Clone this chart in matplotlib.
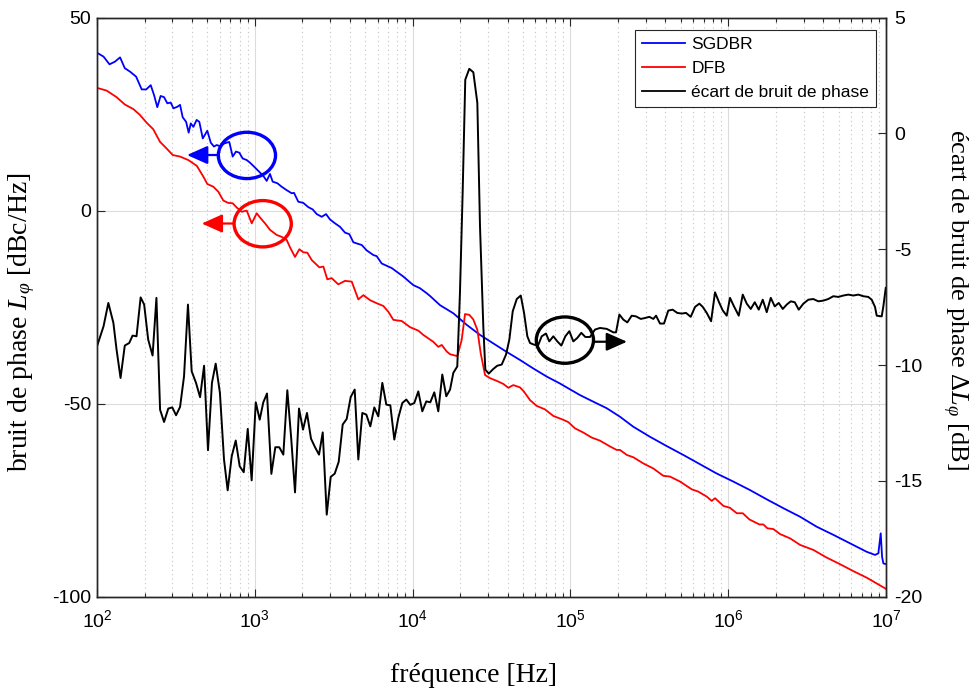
import numpy as np
import matplotlib
matplotlib.use('Agg')
import matplotlib.pyplot as plt
from matplotlib.patches import Ellipse
from matplotlib.lines import Line2D

plt.rcParams['font.family'] = ['Liberation Sans', 'DejaVu Sans']
plt.rcParams['mathtext.fontset'] = 'custom'
plt.rcParams['mathtext.rm'] = 'Liberation Serif'
plt.rcParams['mathtext.it'] = 'Liberation Serif:italic'
plt.rcParams['axes.unicode_minus'] = False

# SGDBR phase noise (dBc/Hz)
f_sgdbr = [100, 110, 120, 130, 140, 150, 162, 177, 192, 205, 219, 230, 241, 253, 266,
           279, 293, 305, 323, 336, 349, 367, 381, 393, 408, 428, 445, 468, 500, 526,
           551, 574, 608, 640, 689, 724, 760, 798, 838, 889, 933, 989, 1052, 1132, 1189,
           1248, 1298, 1389, 1479, 1592, 1712, 1772, 1886, 2029, 2183, 2328, 2468, 2655,
           2827, 2997, 3223, 3467, 3730, 3973, 4210, 4424, 4757, 5117, 5635, 5920, 6370,
           7385, 8739, 10100, 11130, 12280, 12880, 14920, 18120, 22030, 26730, 32450,
           39430, 47940, 58210, 70790, 85930, 99360, 115100, 139600, 169900, 206100,
           250500, 319400, 407500, 519200, 662100, 844600, 1077000, 1374000, 1754000,
           2236000, 2851000, 3637000, 4638000, 5916000, 7547000, 8516000, 8937000,
           9254000, 9437000, 9622000, 10000000]
L_sgdbr = [40.9, 39.9, 37.9, 38.6, 39.7, 36.9, 36.0, 34.7, 31.4, 31.4, 32.5, 29.9, 26.8,
           29.7, 29.4, 27.8, 28.0, 26.5, 26.9, 27.4, 24.2, 23.0, 20.2, 22.6, 21.7, 23.5,
           23.0, 18.7, 20.7, 17.6, 16.6, 17.0, 16.6, 17.4, 17.8, 14.0, 15.3, 15.0, 13.5,
           13.1, 12.4, 11.4, 10.3, 9.0, 7.7, 9.5, 7.5, 7.1, 6.2, 5.3, 4.5, 4.6, 2.3, 2.0,
           0.9, 0.3, -0.9, -1.6, -0.9, -2.3, -3.3, -4.2, -5.7, -6.1, -8.2, -8.5, -8.9,
           -10.3, -11.5, -11.8, -13.7, -14.9, -17.1, -19.3, -20.1, -21.4, -22.1, -24.5,
           -26.6, -29.6, -32.2, -34.4, -36.6, -38.7, -40.9, -43.0, -44.8, -46.3, -47.8,
           -49.5, -51.2, -53.4, -56.0, -58.6, -61.0, -63.3, -65.7, -68.1, -70.2, -72.4,
           -74.8, -77.1, -79.3, -81.9, -84.0, -86.2, -88.4, -89.2, -88.8, -83.6, -89.7,
           -91.4, -91.6]

# DFB phase noise (dBc/Hz)
f_dfb = [100, 115, 133, 150, 170, 187, 206, 227, 251, 276, 302, 336, 379, 429, 472, 500,
         546, 587, 632, 679, 724, 768, 826, 889, 956, 1028, 1090, 1161, 1249, 1376, 1480,
         1592, 1671, 1798, 1915, 2029, 2151, 2294, 2565, 2719, 2880, 3071, 3379, 3730,
         4113, 4529, 4873, 5375, 5925, 6521, 7015, 7551, 8536, 9637, 10870, 11690, 13530,
         14550, 15290, 16440, 17260, 19190, 20460, 21480, 22870, 24240, 25720, 27020,
         28770, 30930, 34090, 37560, 40400, 43450, 47940, 50800, 55460, 61200, 69030,
         77950, 90160, 96970, 106900, 120700, 136500, 154000, 178200, 196300, 206200,
         227500, 250500, 289700, 335100, 387800, 427600, 495000, 587000, 646500, 730900,
         786200, 824800, 931100, 1026600, 1132000, 1236000, 1361000, 1574000, 1669000,
         1770000, 1932000, 2130000, 2464000, 2851000, 3462000, 4210000, 5111000, 6206000,
         7547000, 10000000]
L_dfb = [31.8, 31.1, 29.4, 27.5, 26.3, 24.8, 22.8, 21.1, 17.8, 16.1, 14.4, 14.0, 13.1,
         11.6, 8.8, 6.9, 6.2, 4.9, 2.6, 2.0, 1.9, 0.8, -0.3, 0.0, -3.3, -0.7, -2.0, -3.3,
         -5.0, -6.3, -6.8, -7.6, -9.5, -12.0, -10.0, -10.8, -10.9, -12.8, -14.7, -14.5,
         -17.8, -17.5, -19.1, -18.2, -18.4, -23.0, -21.9, -23.2, -24.0, -24.7, -26.2,
         -28.3, -28.6, -30.2, -31.1, -32.2, -34.0, -35.3, -34.8, -36.5, -37.2, -37.7,
         -33.5, -26.8, -27.0, -28.2, -30.9, -37.0, -42.6, -43.4, -44.1, -44.9, -45.9,
         -45.2, -45.8, -46.9, -49.1, -50.6, -51.5, -53.2, -54.2, -54.8, -56.4, -57.5,
         -58.8, -59.6, -61.1, -62.0, -62.0, -63.3, -63.9, -65.5, -66.8, -68.7, -68.9,
         -70.2, -72.2, -72.8, -74.1, -75.2, -74.5, -76.5, -77.0, -78.4, -78.4, -80.0,
         -81.3, -81.3, -82.3, -82.5, -83.8, -84.9, -86.6, -87.9, -89.9, -91.6, -93.4,
         -95.1, -98.0]

# phase noise gap (dB), right axis
f_gap = [100, 110, 118, 127, 133, 141, 150, 160, 168, 178, 189, 199, 211, 225, 238, 251,
         266, 283, 300, 317, 336, 356, 377, 398, 424, 450, 477, 505, 535, 565, 601, 638,
         673, 714, 757, 802, 851, 902, 955, 1014, 1074, 1132, 1195, 1273, 1349, 1429,
         1516, 1607, 1703, 1798, 1906, 2020, 2141, 2270, 2408, 2552, 2694, 2856, 3027,
         3209, 3401, 3605, 3821, 4052, 4295, 4528, 4799, 5089, 5395, 5718, 6062, 6427,
         6812, 7223, 7656, 8116, 8605, 9121, 9669, 10250, 10865, 11517, 12210, 12943,
         13721, 14545, 15418, 16344, 17269, 18110, 19190, 19950, 20750, 21560, 22860,
         24250, 25710, 26730, 28050, 28890, 30360, 32460, 34410, 36700, 39080, 41020,
         43090, 45710, 48450, 50830, 53330, 55460, 58770, 62340, 65770, 69990, 73450,
         77930, 82600, 87580, 92840, 98420, 104300, 110600, 117200, 124300, 133000,
         143100, 154000, 170000, 187100, 194500, 204200, 216400, 229400, 244600, 260400,
         279000, 297100, 316300, 335300, 348700, 369500, 391700, 416900, 444500, 475400,
         507100, 540000, 578400, 616400, 656300, 689300, 730800, 778500, 824800, 874400,
         922600, 978200, 1026000, 1088000, 1166000, 1236000, 1310000, 1389000, 1473000,
         1561000, 1655000, 1754000, 1860000, 1972000, 2090000, 2216000, 2349000, 2490000,
         2640000, 2798000, 2993000, 3218000, 3461000, 3722000, 4005000, 4307000, 4632000,
         4986000, 5363000, 5768000, 6205000, 6674000, 7178000, 7720000, 8112000, 8511000,
         8730000, 9389000, 9614000, 9960000]
d_gap = [-9.19, -8.33, -7.32, -8.18, -9.33, -10.56, -9.16, -9.05, -8.73, -8.76, -7.08,
         -7.39, -8.90, -9.59, -7.10, -11.93, -12.46, -11.88, -11.83, -12.17, -11.81,
         -10.49, -7.39, -10.27, -10.77, -11.39, -10.03, -13.68, -10.77, -9.94, -11.20,
         -14.08, -15.41, -13.94, -13.26, -14.37, -14.63, -12.76, -14.98, -11.61, -12.36,
         -11.61, -11.23, -14.70, -13.55, -13.55, -13.87, -11.09, -13.22, -15.50, -11.88,
         -12.79, -12.07, -13.18, -13.55, -13.87, -12.91, -16.46, -14.83, -14.69, -14.18,
         -12.57, -12.33, -11.38, -11.06, -14.08, -12.07, -12.14, -12.65, -11.83, -12.22,
         -10.77, -11.71, -11.74, -13.22, -12.28, -11.64, -11.49, -11.72, -11.64, -11.14,
         -12.00, -11.57, -11.61, -11.18, -12.00, -10.41, -11.35, -11.06, -10.34, -10.06,
         -6.89, -2.57, 2.32, 2.79, 2.64, 1.32, -4.01, -8.33, -10.20, -10.37, -10.17,
         -10.03, -9.98, -9.55, -8.90, -7.68, -7.15, -7.00, -7.75, -8.76, -9.05, -9.12,
         -9.16, -8.76, -8.64, -8.98, -8.76, -8.98, -9.16, -8.76, -8.54, -8.98, -8.83,
         -8.61, -8.79, -8.79, -8.47, -8.40, -8.44, -8.59, -8.59, -7.82, -8.04, -8.16,
         -7.87, -7.90, -8.01, -7.97, -7.92, -8.01, -7.87, -8.21, -8.21, -7.65, -7.61,
         -7.75, -7.78, -7.75, -7.92, -7.49, -7.35, -7.49, -7.75, -8.11, -6.86, -7.29,
         -7.64, -7.87, -7.10, -7.47, -7.87, -6.96, -7.35, -7.58, -7.29, -7.61, -7.18,
         -7.72, -7.10, -7.47, -7.32, -7.58, -7.39, -7.25, -7.29, -7.61, -7.35, -7.18,
         -7.15, -7.25, -7.22, -7.15, -7.03, -7.06, -7.00, -6.96, -7.00, -6.96, -7.03,
         -7.06, -7.18, -7.49, -7.87, -7.90, -7.47, -6.67]

labels = ['SGDBR', 'DFB', 'écart de bruit de phase']

fig = plt.figure(figsize=(9.71, 6.91), dpi=100)
ax = fig.add_axes([0.0999, 0.1366, 0.8126, 0.8379])
ax2 = ax.twinx()

ax.semilogx(f_sgdbr, L_sgdbr, color='blue', lw=1.3)
ax.semilogx(f_dfb, L_dfb, color='red', lw=1.3)
ax2.semilogx(f_gap, d_gap, color='black', lw=1.4)

ax.set_xlim(1e2, 1e7)
ax.set_ylim(-100, 50)
ax.set_yticks([-100, -50, 0, 50])
ax2.set_ylim(-20, 5)
ax2.set_yticks([-20, -15, -10, -5, 0, 5])

ax.grid(which='major', color='#dcdcdc', lw=0.8)
ax.grid(which='minor', axis='x', color='#c4c4c4', lw=0.8, ls=(0, (1, 3)))
ax.set_axisbelow(True)

ax.tick_params(which='both', direction='in', top=True, labelsize=14, colors='#262626')
ax.tick_params(which='major', length=6, width=0.8)
ax.tick_params(which='minor', length=3, width=0.8)
ax.tick_params(axis='x', pad=9)
ax.tick_params(axis='y', pad=4)
ax2.tick_params(direction='in', length=6, width=0.8, labelsize=14, pad=6, colors='#262626')
for a in (ax, ax2):
    for s in a.spines.values():
        s.set_linewidth(1.0)
        s.set_color('#262626')
for t in ax.get_yticklabels() + ax.get_xticklabels() + ax2.get_yticklabels():
    t.set_color('black')

fig.text(22 / 971, 1 - 322 / 691, r'bruit de phase $L_{\varphi}$ [dBc/Hz]',
         rotation=90, ha='center', va='center', fontsize=20, family='Liberation Serif')
fig.text(955 / 971, 1 - 300 / 691, r'écart de bruit de phase Δ$L_{\varphi}$ [dB]',
         rotation=270, ha='center', va='center', fontsize=19, family='Liberation Serif')
fig.text(473 / 971, 1 - 682 / 691, 'fréquence [Hz]', ha='center', va='baseline',
         fontsize=20, family='Liberation Serif')

# circles and arrows pointing to the matching axis
marks = [('blue', 0.190, 0.762, 0.1546, 0.1141, 0.7627),
         ('red', 0.210, 0.644, 0.1730, 0.1327, 0.6444),
         ('black', 0.593, 0.443, 0.6290, 0.6717, 0.4402)]
for col, cx, cy, x0, x1, ya in marks:
    ax2.add_patch(Ellipse((cx, cy), 0.0725, 0.080, transform=ax2.transAxes,
                          fill=False, edgecolor=col, lw=2.4, zorder=5))
    ax2.annotate('', xy=(x1, ya), xytext=(x0, ya), xycoords='axes fraction',
                 arrowprops=dict(arrowstyle='-|>,head_length=0.9,head_width=0.4',
                                 color=col, lw=1.6, mutation_scale=14,
                                 shrinkA=0, shrinkB=0), zorder=5)

handles = [Line2D([], [], color='blue', lw=1.3),
           Line2D([], [], color='red', lw=1.3),
           Line2D([], [], color='black', lw=1.3)]
leg = ax2.legend(handles, labels, loc='upper right', bbox_to_anchor=(0.9873, 0.9786),
                 borderaxespad=0, fancybox=False, edgecolor='#262626', framealpha=1,
                 fontsize=12.5, handlelength=2.5, handletextpad=0.35, labelspacing=0.5,
                 borderpad=0.4)
leg.get_frame().set_linewidth(0.8)

fig.savefig('out.png', dpi=100)
